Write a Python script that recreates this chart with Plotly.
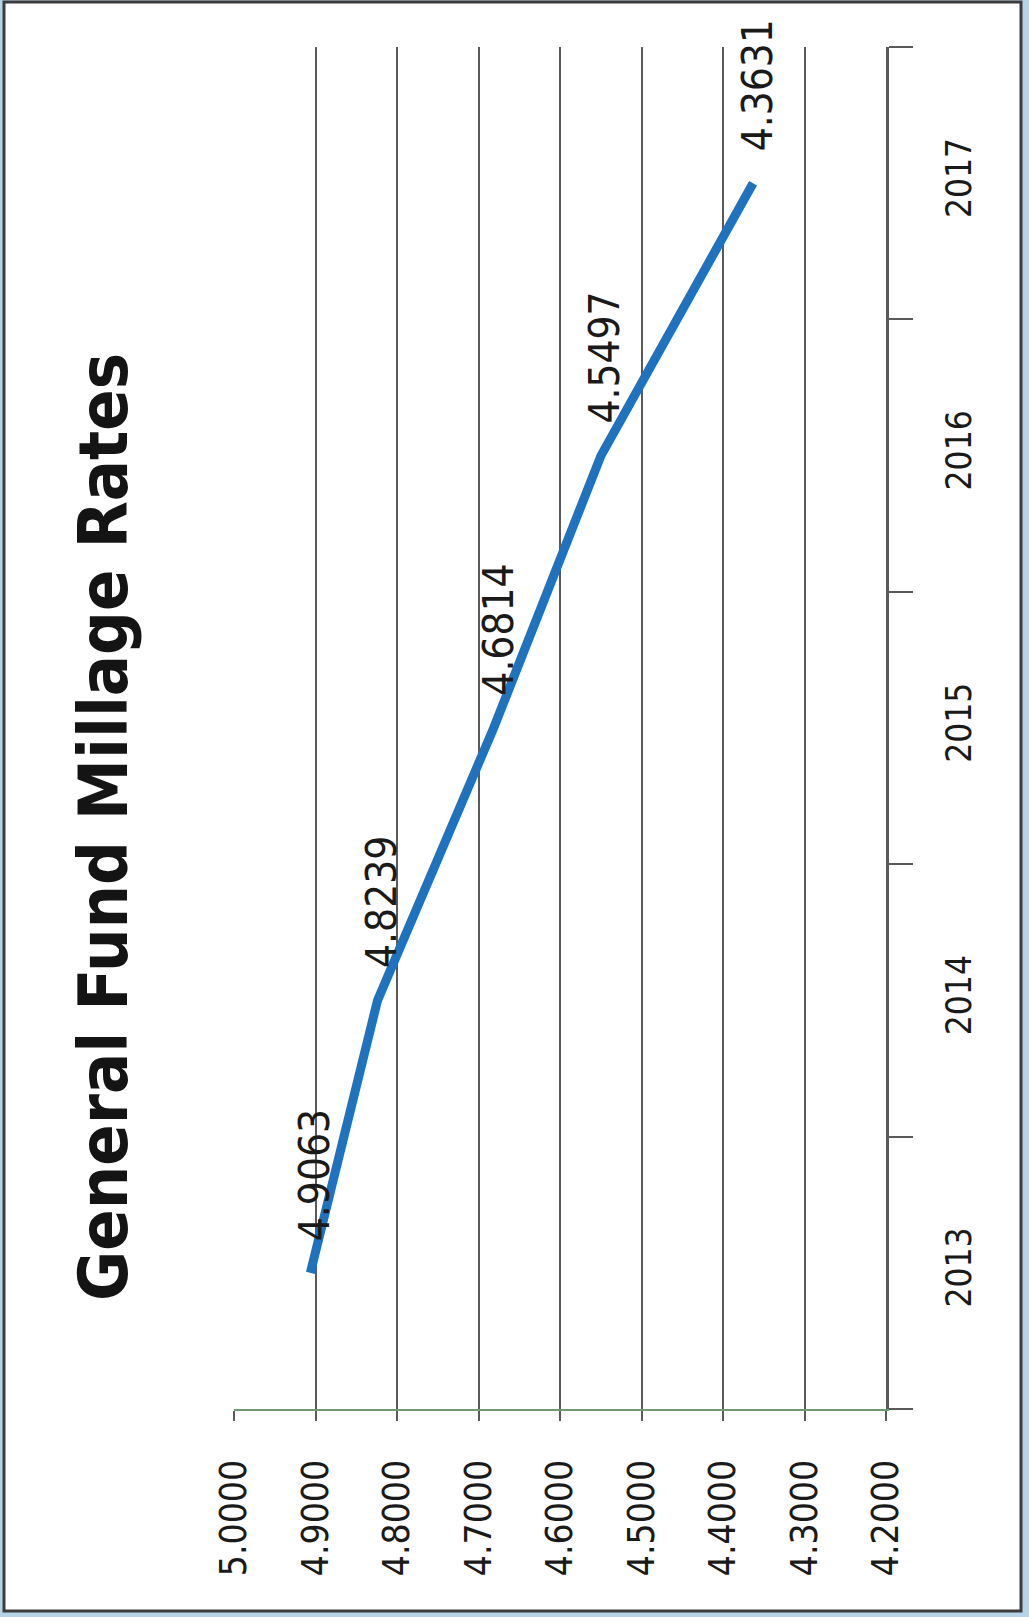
"""General Fund Millage Rates - rotated line chart."""

import plotly.graph_objects as go

# ---------------------------------------------------------------------------
# Data
# ---------------------------------------------------------------------------

years = ["2013", "2014", "2015", "2016", "2017"]
rates = [4.9063, 4.8239, 4.6814, 4.5497, 4.3631]
rate_labels = ["4.9063", "4.8239", "4.6814", "4.5497", "4.3631"]
value_ticks = [5.0, 4.9, 4.8, 4.7, 4.6, 4.5, 4.4, 4.3, 4.2]

TITLE = "General Fund Millage Rates"

# ---------------------------------------------------------------------------
# Styling
# ---------------------------------------------------------------------------

FONT = "DejaVu Sans Condensed, Liberation Sans, Arial, sans-serif"
GRID = "#5a5a5a"
LINE_BLUE = "#1f72bd"
W, H = 1029, 1617
L, R, T, B = 234, 143, 47, 208

fig = go.Figure()

fig.add_trace(go.Scatter(
    x=rates,
    y=years,
    mode="lines",
    line=dict(color=LINE_BLUE, width=9),
    hoverinfo="skip",
    showlegend=False,
))

# rotated data labels (one per point, sitting just past the point)
for idx, (val, lab) in enumerate(zip(rates, rate_labels)):
    fig.add_annotation(
        x=val, y=idx, xref="x", yref="y",
        text=lab, textangle=-90, showarrow=False,
        font=dict(family=FONT, size=42, color="#1a1a1a"),
        xanchor="center", yanchor="bottom",
        xshift=4, yshift=30,
    )

# title (rotated)
pw, ph = W - L - R, H - T - B
fig.add_annotation(
    x=(103 - L) / pw, y=(H - B - 827) / ph, xref="paper", yref="paper",
    text=f"<b>{TITLE}</b>", textangle=-90, showarrow=False,
    font=dict(family=FONT, size=68, color="#141414"),
    xanchor="center", yanchor="middle",
)

# scanned page: white sheet with dark border on light blue
fig.add_shape(
    type="rect", xref="paper", yref="paper", layer="below",
    x0=(4 - L) / pw, x1=(1021 - L) / pw,
    y0=(H - B - 1611) / ph, y1=(H - B - 2) / ph,
    fillcolor="white", line=dict(color="#3c3c3c", width=3),
)

fig.update_layout(
    width=W,
    height=H,
    margin=dict(l=L, r=R, t=T, b=B, pad=0),
    paper_bgcolor="#b7d4e7",
    plot_bgcolor="rgba(0,0,0,0)",
    xaxis=dict(
        range=[5.0, 4.2],
        tickvals=value_ticks,
        tickformat=".4f",
        tickangle=-90,
        automargin=False,
        showgrid=True,
        gridcolor=GRID,
        gridwidth=2,
        zeroline=False,
        showline=True,
        linecolor="#6f9a70",
        linewidth=2,
        ticks="outside",
        ticklen=10,
        tickcolor=GRID,
        tickwidth=2,
        ticklabelstandoff=24,
        tickfont=dict(family=FONT, size=37, color="#1a1a1a"),
    ),
    yaxis=dict(
        type="category",
        categoryorder="array",
        categoryarray=years,
        range=[-0.5, 4.5],
        side="right",
        automargin=False,
        showgrid=False,
        zeroline=False,
        showline=True,
        linecolor=GRID,
        linewidth=3,
        ticks="outside",
        tickson="boundaries",
        ticklen=24,
        tickcolor=GRID,
        tickwidth=2,
        tickangle=-90,
        ticklabelstandoff=40,
        tickfont=dict(family=FONT, size=35, color="#1a1a1a"),
    ),
)

# drop the default page margin so the figure sits flush in the window
fig.write_html(
    "out.html",
    config={"displayModeBar": False},
    post_script="document.body.style.margin='0';document.body.style.overflow='hidden';",
)
